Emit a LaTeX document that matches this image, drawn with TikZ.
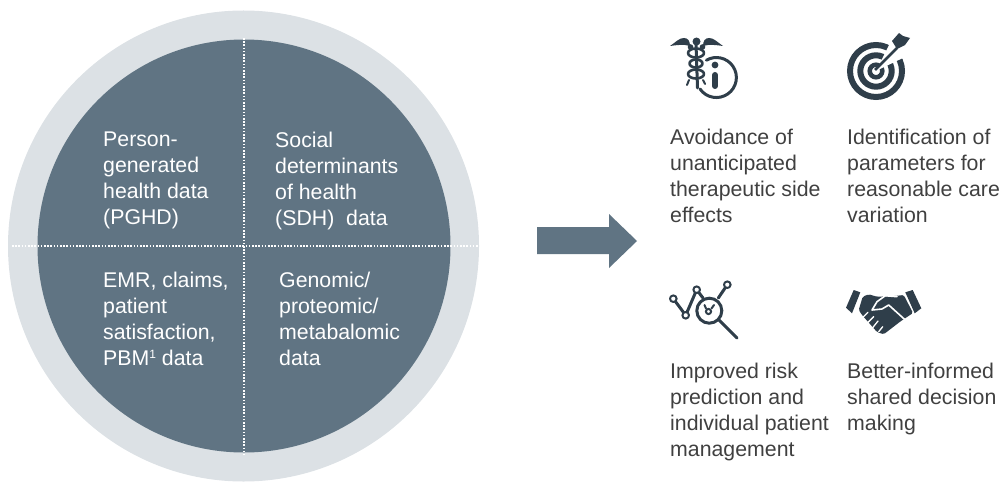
\documentclass[tikz,border=0pt]{standalone}
\usepackage{fontspec}
\setmainfont{Liberation Sans}
\definecolor{ringgray}{RGB}{220,225,229}
\definecolor{slateblue}{RGB}{96,116,131}
\definecolor{icondark}{RGB}{47,62,74}
\definecolor{bodytext}{RGB}{64,64,64}
\tikzset{
	pielabel/.style={anchor=north west,inner sep=0pt,align=left,text=white,font=\fontsize{21.3}{26}\selectfont},
	goallabel/.style={anchor=north west,inner sep=0pt,align=left,text=bodytext,font=\fontsize{21.3}{26}\selectfont},
	divider/.style={white,line width=1.6pt,dash pattern=on 1.6pt off 1.6pt},
	iconline/.style={icondark,line width=3pt,line cap=round,line join=round},
	iconcut/.style={white,line width=1.3pt,line cap=round}
}

\begin{document}
\begin{tikzpicture}[x=1pt,y=-1pt]
	\useasboundingbox (0,0) rectangle (1003,484);

	% Outer ring and inner disc
	\fill[ringgray] (243.5,246) circle (235.5);
	\fill[slateblue] (244,246) circle (206.5);

	% Dotted dividers
	\draw[divider] (244,38) -- (244,455);
	\draw[divider] (12,246) -- (479,246);

	% Quadrant labels
	\node[pielabel] (pghd) at (103,131.5) {Person-\\generated\\health data\\(PGHD)};
	\node[pielabel] (sdh) at (275,131.5) {Social\\determinants\\of health\\(SDH)\ \ data};
	\node[pielabel] (emr) at (103,271.5) {EMR, claims,\\patient\\satisfaction,\\PBM\raisebox{7pt}{\fontsize{12}{12}\selectfont 1} data};
	\node[pielabel] (omics) at (279,271.5) {Genomic/\\proteomic/\\metabalomic\\data};

	% Big arrow
	\fill[slateblue] (537,227) -- (609,227) -- (609,214) -- (637,241) -- (609,268) -- (609,254) -- (537,254) -- cycle;

	% Caduceus with info circle
	\draw[iconline] (700,89) arc (145:-120:20);
	\fill[icondark] (670,46) .. controls (676,42) and (679,38) .. (684,38) .. controls (688,38) and (690,41) .. (690,46) .. controls (684,44) and (677,45) .. cycle;
	\fill[icondark] (723,46) .. controls (717,42) and (714,38) .. (709,38) .. controls (705,38) and (703,41) .. (703,46) .. controls (709,44) and (716,45) .. cycle;
	\fill[icondark] (696.5,41.5) circle (4);
	\fill[icondark] (690.5,47) circle (2.8);
	\fill[icondark] (702.5,47) circle (2.8);
	\draw[iconline] (696,44) -- (697.5,88);
	\draw[iconline,line width=2.6pt] (696,53) ellipse (8 and 4.5);
	\draw[iconline,line width=2.6pt] (696,63.5) ellipse (6.5 and 4);
	\draw[iconline,line width=2.6pt] (696,74) ellipse (8 and 4.5);
	\draw[iconline,line width=2pt] (689,80) -- (687,85);
	\draw[iconline,line width=2pt] (703,80) -- (705,84);
	\fill[icondark] (715,65) circle (3.4);
	\draw[iconline,line width=6pt] (715,75) -- (715,86);

	% Target with dart
	\draw[icondark,line width=6pt] (876,71) circle (26);
	\draw[icondark,line width=6pt] (876,71) circle (15.7);
	\draw[icondark,line width=4.5pt] (876,71) circle (6.3);
	\fill[white] (876,71) -- (891,41) -- (907,56) -- cycle;
	\draw[icondark,line width=2.6pt] (875,70) -- (897,48);
	\fill[icondark] (892,41) -- (899,33) -- (903,36) -- (910,38) -- (905,45) -- (897,49) -- cycle;

	% Chart with magnifier
	\coordinate (ptA) at (673.3,298.7);
	\coordinate (ptB) at (685.7,315.3);
	\coordinate (ptC) at (696.7,289.7);
	\coordinate (ptD) at (727.3,284.7);
	\coordinate (lens) at (709.3,310.7);
	\draw[iconline] (ptA) -- (ptB) -- (ptC) -- (703,298);
	\draw[iconline] (ptD) -- (718.3,298);
	\foreach \pt in {ptA,ptB,ptC,ptD}
		\draw[iconline,fill=white,line width=2pt] (\pt) circle (3.3);
	\draw[iconline] (lens) circle (12.5);
	\draw[iconline] (718.5,319.5) -- (737,338);
	\draw[iconline,line width=2pt] (708.5,311.5) circle (2.6);
	\draw[iconline,line width=2pt] (704.5,305) -- (706,308.5);
	\draw[iconline,line width=2pt] (714,305) -- (711.5,308.5);

	% Handshake
	\fill[icondark] (846,307.7) -- (853.7,290) -- (860.3,292.3) -- (852,313.3) -- cycle;
	\fill[icondark] (905.3,292.3) -- (912.7,290) -- (921.3,308.3) -- (914.7,313.3) -- cycle;
	\fill[icondark,rounded corners=1.5pt] (862.7,296.7) -- (868.7,294.3) -- (877,296.7) -- (895,296) -- (903.7,295) -- (913,313) -- (901,321) -- (883.7,334.3) -- (877,332) -- (862,315) -- (858.7,310) -- cycle;
	\draw[iconcut,line width=1.6pt,line join=round] (897,296.7) -- (885.3,295.7) -- (877,301.7) -- (872,310) -- (882,309) -- (888.7,305) -- (905.3,320);
	\draw[iconcut] (862,318.3) -- (868,312.3);
	\draw[iconcut] (867,323.3) -- (873.7,316.7);
	\draw[iconcut] (872.7,327.7) -- (878,321);
	\draw[iconcut] (878.7,331.7) -- (882.7,326.7);

	% Benefit labels
	\node[goallabel] (sidefx) at (670,129) {Avoidance of\\unanticipated\\therapeutic side\\effects};
	\node[goallabel] (vary) at (847,129) {Identification of\\parameters for\\reasonable care\\variation};
	\node[goallabel] (risk) at (670,363) {Improved risk\\prediction and\\individual patient\\management};
	\node[goallabel] (shared) at (847,363) {Better-informed\\shared decision\\making};
\end{tikzpicture}
\end{document}
